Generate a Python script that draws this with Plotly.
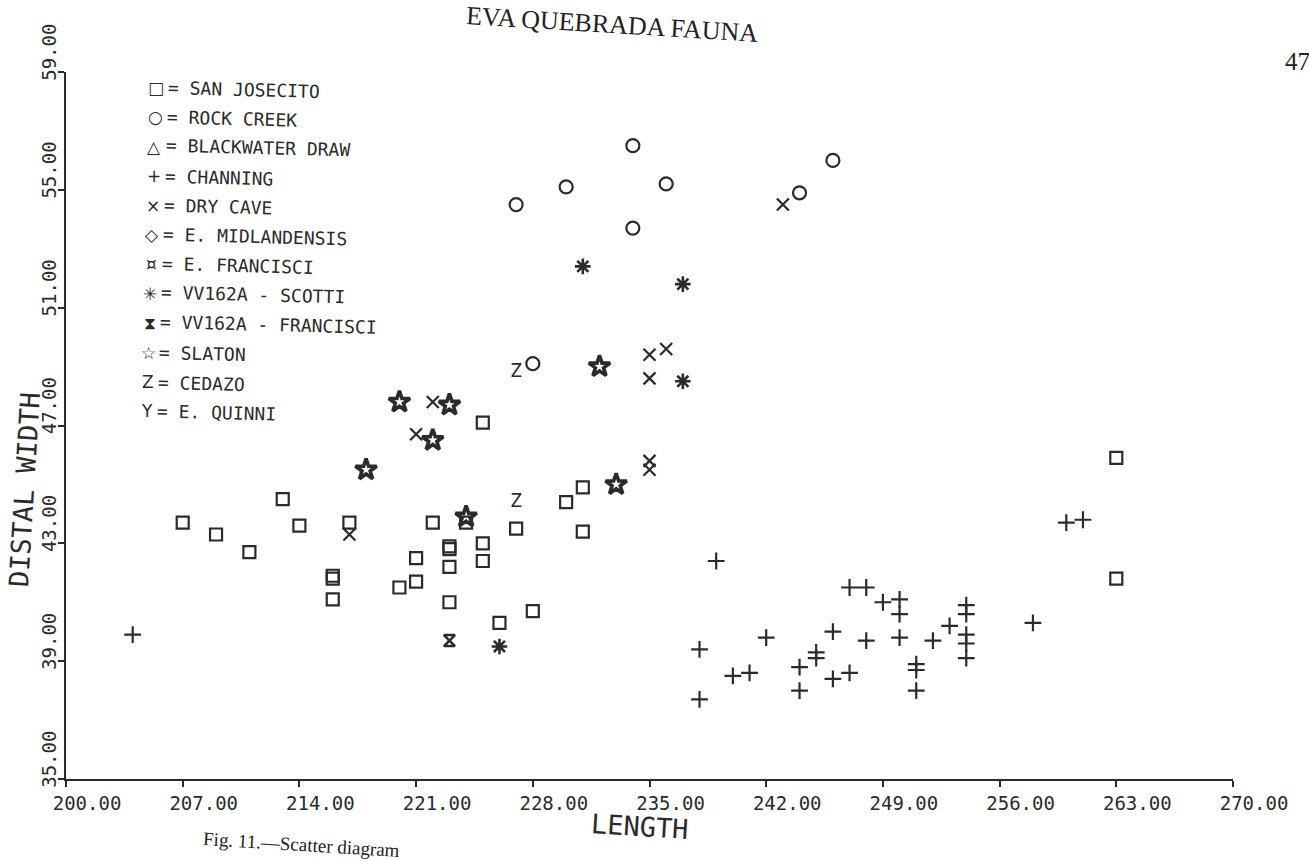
import plotly.graph_objects as go

# ---------------- data (LENGTH, DISTAL WIDTH) ----------------
sanjosecito_x = [225, 207, 209, 211, 213, 214, 217, 216, 216, 216, 222, 221, 221, 220, 223, 223,
                 223, 225, 225, 223, 227, 226, 228, 224, 231, 230, 231, 263, 263]
sanjosecito_y = [47.1, 43.7, 43.3, 42.7, 44.5, 43.6, 43.7, 41.9, 41.8, 41.1, 43.7, 42.5, 41.7, 41.5, 42.9, 42.8,
                 42.2, 43.0, 42.4, 41.0, 43.5, 40.3, 40.7, 43.7, 44.9, 44.4, 43.4, 45.9, 41.8]

rockcreek_x = [234, 230, 227, 236, 234, 246, 244, 228]
rockcreek_y = [56.5, 55.1, 54.5, 55.2, 53.7, 56.0, 54.9, 49.1]

channing_x = [204, 239, 238, 238, 242, 240, 241, 244, 244, 245, 245, 246, 246, 247, 247, 248, 249,
              250, 250, 248, 250, 251, 251, 251, 252, 253, 254, 254, 254, 254, 254, 258, 260, 261]
channing_y = [39.9, 42.4, 39.4, 37.7, 39.8, 38.5, 38.6, 38.8, 38.0, 39.3, 39.1, 40.0, 38.4, 38.6, 41.5, 41.5, 41.0,
              41.1, 40.6, 39.7, 39.8, 38.9, 38.7, 38.0, 39.7, 40.2, 40.9, 40.6, 39.9, 39.6, 39.1, 40.3, 43.7, 43.8]

drycave_x = [243, 222, 221, 217, 235, 236, 235, 235, 235]
drycave_y = [54.5, 47.8, 46.7, 43.3, 49.4, 49.6, 48.6, 45.8, 45.5]

scotti_x = [231, 237, 237, 226]
scotti_y = [52.4, 51.8, 48.5, 39.5]

vvfrancisci_x = [223]
vvfrancisci_y = [39.7]

slaton_x = [220, 223, 222, 218, 224, 232, 233]
slaton_y = [47.8, 47.7, 46.5, 45.5, 43.9, 49.0, 45.0]

cedazo_x = [227, 227]
cedazo_y = [48.8, 44.4]

legend_glyphs = ["\u25a1", "\u25cb", "\u25b3", "+", "\u00d7", "\u25c7", "\u00a4", "\u2733", "\u29d7", "\u2606", "Z", "Y"]
legend_names = ["SAN JOSECITO", "ROCK CREEK", "BLACKWATER DRAW", "CHANNING", "DRY CAVE",
                "E. MIDLANDENSIS", "E. FRANCISCI", "VV162A - SCOTTI", "VV162A - FRANCISCI",
                "SLATON", "CEDAZO", "E. QUINNI"]

x_ticks = [200, 207, 214, 221, 228, 235, 242, 249, 256, 263, 270]
y_ticks = [35, 39, 43, 47, 51, 55, 59]

# ---------------- layout geometry ----------------
W, H = 1309, 861
ML, MR, MT, MB = 66, 76, 72, 82
PW, PH = W - ML - MR, H - MT - MB
INK = "#2b2b2b"
MONO = "DejaVu Sans Mono"


def px(x):
    return (x - ML) / PW


def py(y):
    return (H - MB - y) / PH


fig = go.Figure()

marker_series = [
    (sanjosecito_x, sanjosecito_y, "square-open", 12, 2.2),
    (rockcreek_x, rockcreek_y, "circle-open", 13, 2.2),
    (channing_x, channing_y, "cross-thin-open", 12, 2.2),
    (drycave_x, drycave_y, "x-thin-open", 12, 2.2),
    (scotti_x, scotti_y, "asterisk-open", 13, 2.6),
    (vvfrancisci_x, vvfrancisci_y, "hourglass-open", 11, 2.6),
    (slaton_x, slaton_y, "star-open", 16, 3.6),
]
for xs, ys, sym, size, lw in marker_series:
    fig.add_trace(go.Scatter(
        x=xs, y=ys, mode="markers", showlegend=False, hoverinfo="x+y",
        marker=dict(symbol=sym, size=size, color=INK, line=dict(color=INK, width=lw)),
    ))

fig.add_trace(go.Scatter(
    x=cedazo_x, y=cedazo_y, mode="text", text=["Z"] * len(cedazo_x), showlegend=False,
    textposition="middle center", textfont=dict(family=MONO, size=20, color=INK),
))

annotations = []
# legend (custom, symbol + label)
for i, (g, n) in enumerate(zip(legend_glyphs, legend_names)):
    yy = 88 + 29.4 * i
    annotations.append(dict(
        x=px(156 - 0.8 * i), y=py(yy), xref="paper", yref="paper", text=g, showarrow=False,
        xanchor="center", yanchor="middle", font=dict(family="DejaVu Sans", size=17, color=INK),
    ))
    annotations.append(dict(
        x=px(166 - 1.0 * i), y=py(yy + 1), xref="paper", yref="paper", text="= " + n, showarrow=False,
        xanchor="left", yanchor="middle", textangle=1.5,
        font=dict(family=MONO, size=18, color=INK),
    ))

# axis titles
annotations.append(dict(
    x=px(640), y=py(826), xref="paper", yref="paper", text="LENGTH", showarrow=False,
    xanchor="center", yanchor="middle", textangle=3.5, font=dict(family=MONO, size=27, color=INK),
))
annotations.append(dict(
    x=px(24), y=py(490), xref="paper", yref="paper", text="DISTAL WIDTH", showarrow=False,
    xanchor="center", yanchor="middle", textangle=-86.5, font=dict(family=MONO, size=27, color=INK),
))
# page furniture
annotations.append(dict(
    x=px(612), y=py(24), xref="paper", yref="paper", text="EVA QUEBRADA FAUNA", showarrow=False,
    xanchor="center", yanchor="middle", textangle=3.5,
    font=dict(family="Liberation Serif", size=26, color="#222"),
))
annotations.append(dict(
    x=px(1283), y=py(62), xref="paper", yref="paper", text="47", showarrow=False,
    xanchor="left", yanchor="middle", font=dict(family="Liberation Serif", size=25, color="#222"),
))
annotations.append(dict(
    x=px(200), y=py(845), xref="paper", yref="paper", text="Fig. 11.\u2014Scatter diagram", showarrow=False,
    xanchor="left", yanchor="middle", textangle=3.5,
    font=dict(family="Liberation Serif", size=19, color="#222"),
))

fig.update_layout(
    width=W, height=H, autosize=False,
    margin=dict(l=ML, r=MR, t=MT, b=MB),
    paper_bgcolor="white", plot_bgcolor="white",
    showlegend=False,
    annotations=annotations,
    xaxis=dict(
        range=[200, 270], tickvals=x_ticks, ticktext=["%.2f" % v for v in x_ticks],
        showgrid=False, zeroline=False, showline=True, linecolor=INK, linewidth=2,
        ticks="outside", ticklen=6, tickwidth=1.5, tickcolor=INK,
        tickfont=dict(family=MONO, size=19, color=INK), ticklabelshift=21,
    ),
    yaxis=dict(
        range=[35, 59], tickvals=y_ticks, ticktext=["%.2f" % v for v in y_ticks],
        showgrid=False, zeroline=False, showline=True, linecolor=INK, linewidth=2,
        ticks="outside", ticklen=6, tickwidth=1.5, tickcolor=INK, tickangle=-90,
        tickfont=dict(family=MONO, size=19, color=INK), ticklabelshift=-17,
        ticklabelstandoff=-6,
    ),
)

fig.write_html("out.html")
